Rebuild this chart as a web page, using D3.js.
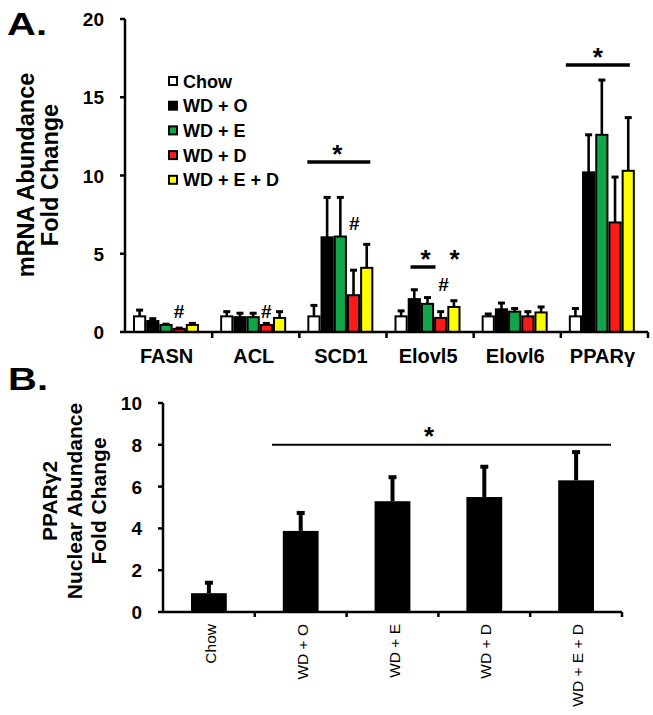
<!DOCTYPE html>
<html><head><meta charset="utf-8">
<script src="https://cdn.jsdelivr.net/npm/d3@7"></script>
<style>body{margin:0;background:#fff}svg{display:block;font-family:"Liberation Sans",Arial,sans-serif}</style>
</head><body><svg id="c" width="653" height="715"></svg>
<script>
// ---- Panel A data ----
const genes = ["FASN","ACL","SCD1","Elovl5","Elovl6","PPARγ"];
const groups = ["Chow","WD + O","WD + E","WD + D","WD + E + D"];
const colors = ["#ffffff","#000000","#12a64a","#ff1a1a","#ffff00"];
const meanChow = [1.0,1.0,1.0,1.0,1.0,1.0];
const meanWDO  = [0.7,0.95,6.05,2.1,1.45,10.2];
const meanWDE  = [0.45,0.95,6.1,1.8,1.3,12.6];
const meanWDD  = [0.2,0.45,2.35,0.9,1.0,7.0];
const meanWDED = [0.45,0.9,4.1,1.6,1.25,10.3];
const errChow = [0.4,0.3,0.7,0.35,0.15,0.5];
const errWDO  = [0.15,0.25,2.55,0.6,0.4,2.4];
const errWDE  = [0.05,0.25,2.5,0.4,0.2,3.5];
const errWDD  = [0.05,0.1,1.6,0.4,0.3,2.9];
const errWDED = [0.1,0.4,1.5,0.4,0.35,3.4];
const yTicksA = [0,5,10,15,20];
// ---- Panel B data ----
const groupsB = ["Chow","WD + O","WD + E","WD + D","WD + E + D"];
const meanB = [0.9,3.88,5.3,5.5,6.3];
const errB  = [0.5,0.86,1.15,1.45,1.35];
const yTicksB = [0,2,4,6,8,10];

const svg = d3.select("#c");
const means = [meanChow,meanWDO,meanWDE,meanWDD,meanWDED];
const errs = [errChow,errWDO,errWDE,errWDD,errWDED];

function txt(g,x,y,s,fs,opt={}){
  const sx = opt.sx||1, rot = opt.rot?" rotate(-90)":"";
  return g.append("text").attr("transform",`translate(${x},${y}) scale(${sx},1)${rot}`)
    .attr("text-anchor",opt.anchor||"start").attr("font-size",fs)
    .attr("font-weight",opt.normal?"normal":"bold").text(s);
}
function line(g,x1,y1,x2,y2,w){return g.append("line").attr("x1",x1).attr("x2",x2).attr("y1",y1).attr("y2",y2).attr("stroke","#000").attr("stroke-width",w);}

// ===== Panel A =====
const xA = d3.scaleBand().domain(genes).range([125,648]);
const xInA = d3.scaleBand().domain(groups).range([8,8+66]);
const yA = d3.scaleLinear().domain([0,20]).range([332,19]);
const gA = svg.append("g");

genes.forEach((gname,gi)=>{
  groups.forEach((grp,si)=>{
    const x0 = xA(gname)+xInA(grp);
    const w = xInA.bandwidth();
    const v = means[si][gi], e = errs[si][gi];
    line(gA,x0+w/2,yA(v),x0+w/2,yA(v+e),2.6);
    line(gA,x0+w/2-3.5,yA(v+e),x0+w/2+3.5,yA(v+e),3);
    gA.append("rect").attr("x",x0+1).attr("y",yA(v)).attr("width",w-2).attr("height",yA(0)-yA(v))
      .attr("fill",colors[si]).attr("stroke","#000").attr("stroke-width",2);
  });
});

line(gA,125,yA(20),125,yA(0),2.5);
line(gA,125,yA(0),648,yA(0),2.5);
yTicksA.forEach(t=>{
  line(gA,120,yA(t),125,yA(t),2.5);
  txt(gA,104,yA(t)+7,t,19,{anchor:"end"});
});
genes.forEach((gname)=>{
  const xb = xA(gname)+xA.bandwidth();
  line(gA,xb,yA(0),xb,yA(0)+6,2.5);
  txt(gA,xA(gname)+xA.bandwidth()/2-2,363,gname,20,{anchor:"middle"});
});
txt(gA,34,175,"mRNA Abundance",23.5,{anchor:"middle",rot:true});
txt(gA,58,175,"Fold Change",23.5,{anchor:"middle",rot:true});
txt(svg,7,35,"A.",32,{sx:1.25});

// legend
groups.forEach((grp,i)=>{
  const y = 81 + i*24.7;
  gA.append("rect").attr("x",169).attr("y",y-4).attr("width",8).attr("height",8)
    .attr("fill",colors[i]).attr("stroke","#000").attr("stroke-width",2);
  txt(gA,183,y+6.5,grp,18);
});

// significance annotations A
function sigA(x1,x2,y,xs){line(gA,x1,y,x2,y,3.5); txt(gA,xs,y+1,"*",26,{anchor:"middle"});}
sigA(xA("SCD1")+8,xA("SCD1")+71,162,xA("SCD1")+38);
sigA(xA("PPARγ")+5,xA("PPARγ")+69,65,xA("PPARγ")+37);
sigA(xA("Elovl5")+24,xA("Elovl5")+49,267,xA("Elovl5")+39);
txt(gA,xA("Elovl5")+68,268,"*",26,{anchor:"middle"});
txt(gA,xA("Elovl5")+57,291,"#",19,{anchor:"middle"});
txt(gA,xA("SCD1")+55,230,"#",19,{anchor:"middle"});
txt(gA,xA("FASN")+54,318,"#",19,{anchor:"middle"});
txt(gA,xA("ACL")+54,318,"#",19,{anchor:"middle"});

// ===== Panel B =====
const xB = d3.scaleBand().domain(groupsB).range([163,622]).paddingInner(0.61).paddingOuter(0.305);
const xBc = d3.scaleBand().domain(groupsB).range([163,622]);
const yB = d3.scaleLinear().domain([0,10]).range([612,403]);
const gB = svg.append("g");
groupsB.forEach((grp,i)=>{
  const x0 = xB(grp), w = xB.bandwidth();
  const v = meanB[i], e = errB[i];
  line(gB,x0+w/2,yB(v),x0+w/2,yB(v+e),4);
  line(gB,x0+w/2-4,yB(v+e),x0+w/2+4,yB(v+e),4);
  gB.append("rect").attr("x",x0).attr("y",yB(v)).attr("width",w).attr("height",yB(0)-yB(v)).attr("fill","#000");
  txt(gB,xBc(grp)+xBc.bandwidth()/2+7,624,grp,15.5,{anchor:"end",rot:true,normal:true});
  line(gB,xBc(grp)+xBc.bandwidth(),yB(0),xBc(grp)+xBc.bandwidth(),yB(0)+5,2.5);
});
line(gB,163,yB(10),163,yB(0),2.5);
line(gB,163,yB(0),622,yB(0),2.5);
yTicksB.forEach(t=>{
  line(gB,158,yB(t),163,yB(t),2.5);
  txt(gB,142,yB(t)+7,t,19,{anchor:"end"});
});
line(gB,272,yB(8),611,yB(8),2);
txt(gB,429,445,"*",26,{anchor:"middle"});
[["PPARγ2",57],["Nuclear Abundance",82],["Fold Change",106]].forEach(([t,x])=>{
  txt(gB,x,501,t,21,{anchor:"middle",rot:true});
});
txt(svg,8,390,"B.",32,{sx:1.25});
</script></body></html>
